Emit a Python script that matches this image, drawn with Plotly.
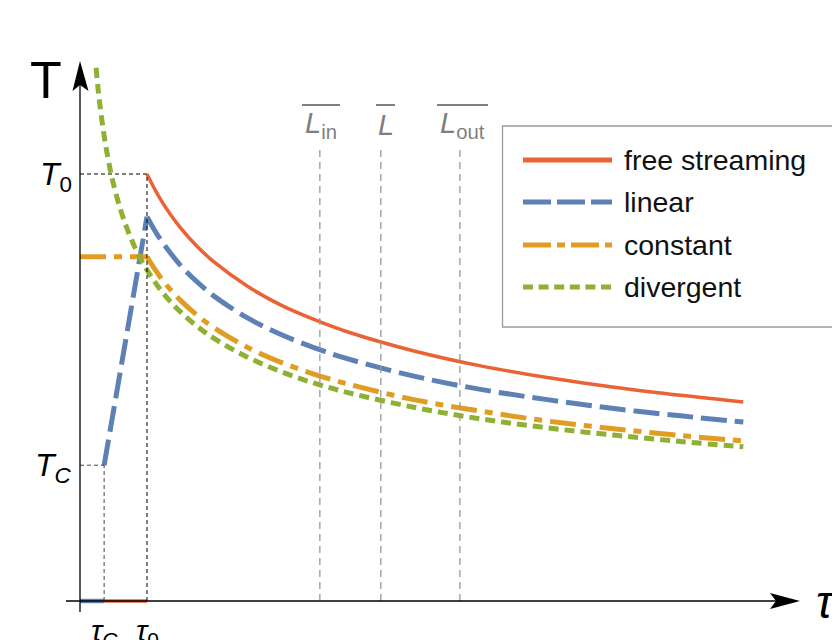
import plotly.graph_objects as go

# ---------------- data ----------------
tau0 = 1.0          # thermalisation time
tauC = 0.36         # critical time
T0 = 1.0
TC = 0.318

tau_late = [1.0, 1.1, 1.2, 1.35, 1.5, 1.75, 2.0, 2.5, 3.0, 3.5, 4.0, 5.0, 6.0, 7.0, 8.0, 9.0, 9.9]
T_free = [1.0, 0.969, 0.941, 0.905, 0.874, 0.830, 0.794, 0.737, 0.693, 0.659, 0.630, 0.585, 0.550,
          0.523, 0.500, 0.481, 0.466]
T_linear = [0.900, 0.872, 0.847, 0.815, 0.786, 0.747, 0.714, 0.663, 0.624, 0.593, 0.567, 0.526, 0.495,
            0.471, 0.450, 0.433, 0.419]
T_constant = [0.806, 0.781, 0.758, 0.729, 0.704, 0.669, 0.640, 0.594, 0.559, 0.531, 0.508, 0.471, 0.444,
              0.421, 0.403, 0.387, 0.375]

tau_div = [0.24, 0.27, 0.3, 0.35, 0.4, 0.45, 0.5, 0.6, 0.7, 0.8, 0.9, 1.0, 1.1, 1.2, 1.35, 1.5, 1.75,
           2.0, 2.5, 3.0, 3.5, 4.0, 5.0, 6.0, 7.0, 8.0, 9.0, 9.9]
T_divergent = [1.249, 1.199, 1.158, 1.100, 1.052, 1.011, 0.976, 0.919, 0.873, 0.835, 0.803, 0.775,
               0.751, 0.729, 0.701, 0.677, 0.643, 0.615, 0.571, 0.537, 0.510, 0.488, 0.453, 0.426,
               0.405, 0.388, 0.373, 0.361]

tau_lin_early = [tauC, tau0]
T_lin_early = [TC, 0.90]
tau_const_early = [0.0, tau0]
T_const_early = [0.806, 0.806]
tau_zero_lin = [0.0, tauC]
tau_zero_free = [tauC, tau0]

L_positions = [3.58, 4.49, 5.67]
L_labels = ["<i>L</i><sub>in</sub>", "<i>L</i>", "<i>L</i><sub>out</sub>"]

names = ["free streaming", "linear", "constant", "divergent"]
colors = ["#EB6235", "#5E81B5", "#E19C24", "#8FB032"]
dashes = ["solid", "26px,8px", "26px,8px,8px,8px", "10px,6px"]
leg_dashes = ["solid", "28px,6px", "28px,6px,8px,6px", "10px,5.6px"]
widths = [3.5, 5, 5, 5]

# ---------------- canvas mapping (reference pixels -> data) ----------------
OFF = 8                      # page body margin
W, H = 840 - OFF, 640 - OFF
X0PX, XS = 80, 67.0
Y0PX, YS = 601, 427.0
def px_x(p):
    return (p - X0PX) / XS
def px_y(p):
    return (Y0PX - p) / YS
def pap_x(p):
    return (p - OFF) / W
def pap_y(p):
    return 1 - (p - OFF) / H

fig = go.Figure()

def line_trace(x, y, i, spline=True, width=None):
    fig.add_trace(go.Scatter(
        x=x, y=y, mode="lines", showlegend=False, hoverinfo="skip",
        line=dict(color=colors[i], width=width or widths[i], dash=dashes[i],
                  shape="spline" if spline else "linear", smoothing=1.0)))

# guides
guide = dict(color="black", width=1, dash="4px,3px")
fig.add_shape(type="line", x0=0, x1=tau0, y0=T0, y1=T0, line=guide)
fig.add_shape(type="line", x0=tau0, x1=tau0, y0=0, y1=T0, line=guide)
fig.add_shape(type="line", x0=0, x1=tauC, y0=TC, y1=TC, line=dict(color="#444", width=1, dash="4px,3px"))
fig.add_shape(type="line", x0=tauC, x1=tauC, y0=0, y1=TC, line=dict(color="#444", width=1, dash="4px,3px"))

for xl in L_positions:
    fig.add_shape(type="line", x0=xl, x1=xl, y0=0, y1=px_y(148),
                  line=dict(color="#9a9a9a", width=1.3, dash="7px,5px"))

# axes with arrows
fig.add_shape(type="line", x0=px_x(66), x1=px_x(780), y0=0, y1=0, line=dict(color="black", width=1.3))
fig.add_shape(type="line", x0=0, x1=0, y0=px_y(612), y1=px_y(80), line=dict(color="black", width=1.3))
fig.add_shape(type="path", fillcolor="black", line=dict(width=0),
              path=f"M {px_x(800)},0 L {px_x(770)},{px_y(593)} L {px_x(776)},0 L {px_x(770)},{px_y(609)} Z")
fig.add_shape(type="path", fillcolor="black", line=dict(width=0),
              path=f"M 0,{px_y(61)} L {px_x(72.5)},{px_y(91)} L 0,{px_y(85)} L {px_x(88.5)},{px_y(91)} Z")

# curves
line_trace(tau_zero_free, [0, 0], 0, spline=False)
line_trace(tau_late, T_free, 0)
fig.add_trace(go.Scatter(x=tau_zero_lin, y=[0, 0], mode="lines", showlegend=False, hoverinfo="skip",
                         line=dict(color=colors[1], width=4.5)))
line_trace(tau_lin_early, T_lin_early, 1, spline=False)
line_trace(tau_late, T_linear, 1)
line_trace(tau_const_early, T_const_early, 2, spline=False)
line_trace(tau_late, T_constant, 2)
line_trace(tau_div, T_divergent, 3)

# ---------------- text ----------------
font = "Liberation Sans, Arial, sans-serif"
def text(xp, yp, s, size, color="black", xanchor="center", yanchor="middle"):
    fig.add_annotation(x=px_x(xp), y=px_y(yp), text=s, showarrow=False,
                       font=dict(family=font, size=size, color=color),
                       xanchor=xanchor, yanchor=yanchor)

text(46, 80, "T", 52)
text(826, 602, "<i>τ</i>", 46)
text(74, 176, "<i>T</i><sub>0</sub>", 32, xanchor="right")
text(74, 467, "<i>T</i><sub><i>C</i></sub>", 32, xanchor="right")
fig.add_annotation(x=tauC, y=px_y(612), text="<i>τ</i><sub><i>C</i></sub>", showarrow=False,
                   font=dict(family=font, size=30, color="black"), xanchor="center", yanchor="top")
fig.add_annotation(x=tau0, y=px_y(612), text="<i>τ</i><sub>0</sub>", showarrow=False,
                   font=dict(family=font, size=30, color="black"), xanchor="center", yanchor="top")

over = [(302, 340), (376, 395), (437, 488)]
for xl, lab, (a, b) in zip(L_positions, L_labels, over):
    fig.add_annotation(x=px_x((a + b) / 2), y=px_y(125), text=lab, showarrow=False,
                       font=dict(family=font, size=29, color="#7f7f7f"), xanchor="center", yanchor="middle")
    fig.add_shape(type="line", x0=px_x(a), x1=px_x(b), y0=px_y(105), y1=px_y(105),
                  line=dict(color="#7f7f7f", width=2))

# legend (manual)
fig.add_shape(type="rect", xref="paper", yref="paper", x0=pap_x(502.5), x1=pap_x(833),
              y0=pap_y(327), y1=pap_y(126), line=dict(color="#9a9a9a", width=1.3),
              fillcolor="white")
leg_y = [160, 202, 245, 287]
for i, (nm, ly) in enumerate(zip(names, leg_y)):
    fig.add_shape(type="line", xref="paper", yref="paper", x0=pap_x(523), x1=pap_x(612),
                  y0=pap_y(ly), y1=pap_y(ly),
                  line=dict(color=colors[i], width=5, dash=leg_dashes[i]))
    fig.add_annotation(xref="paper", yref="paper", x=pap_x(622), y=pap_y(ly), text=nm, showarrow=False,
                       font=dict(family=font, size=28.5, color="#111"), xanchor="left", yanchor="middle")

fig.update_layout(
    width=W, height=H, margin=dict(l=0, r=0, t=0, b=0),
    paper_bgcolor="white", plot_bgcolor="white",
    xaxis=dict(range=[px_x(OFF), px_x(840)], visible=False, fixedrange=True),
    yaxis=dict(range=[px_y(640), px_y(OFF)], visible=False, fixedrange=True),
    showlegend=False,
)

fig.write_html("out.html")
